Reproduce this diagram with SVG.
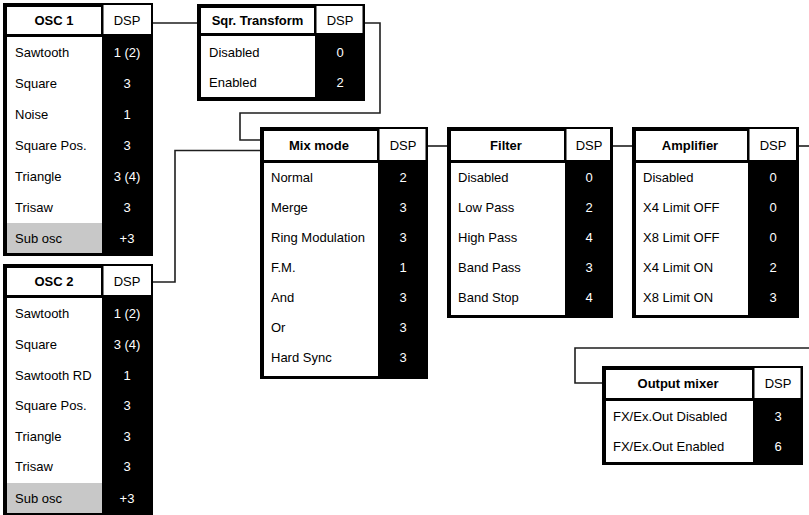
<svg xmlns="http://www.w3.org/2000/svg" width="809" height="515" viewBox="0 0 809 515">
<style>
text{font-family:"Liberation Sans",Arial,sans-serif;font-size:13px}
.hd{font-weight:bold;text-anchor:middle;fill:#000}
.dh{text-anchor:middle;fill:#000}
.lb{fill:#000}
.v{text-anchor:middle;fill:#fff}
.blk{fill:#000}
.wht{fill:#fff}
.gry{fill:#c8c8c8}
.con{fill:none;stroke:#1e1e1e;stroke-width:1.6}
</style>
<rect width="809" height="515" fill="#fff"/>
<g id="connectors">
<path class="con" d="M153,23 H197"/>
<path class="con" d="M365,23 H380 V113 H240 V140 H260"/>
<path class="con" d="M153,282 H175 V150.5 H260"/>
<path class="con" d="M428,146 H447"/>
<path class="con" d="M613,146 H632"/>
<path class="con" d="M799,146 H812"/>
<path class="con" d="M812,348 H575 V383 H602"/>
</g>
<g id="osc1">
<rect class="blk" x="3" y="3" width="150" height="253"/>
<rect class="wht" x="7" y="7" width="94" height="27"/>
<rect class="wht" x="103.5" y="5" width="47.5" height="29"/>
<rect class="wht" x="7" y="37" width="95" height="186"/>
<rect class="gry" x="7" y="223" width="95" height="30"/>
<text class="hd" x="54" y="25">OSC 1</text>
<text class="dh" x="127" y="25">DSP</text>
<text class="lb" x="15" y="57">Sawtooth</text><text class="v" x="127" y="57">1 (2)</text>
<text class="lb" x="15" y="88">Square</text><text class="v" x="127" y="88">3</text>
<text class="lb" x="15" y="119">Noise</text><text class="v" x="127" y="119">1</text>
<text class="lb" x="15" y="150">Square Pos.</text><text class="v" x="127" y="150">3</text>
<text class="lb" x="15" y="181">Triangle</text><text class="v" x="127" y="181">3 (4)</text>
<text class="lb" x="15" y="212">Trisaw</text><text class="v" x="127" y="212">3</text>
<text class="lb" x="15" y="243">Sub osc</text><text class="v" x="127" y="243">+3</text>
</g>
<g id="osc2">
<rect class="blk" x="3" y="264" width="150" height="253"/>
<rect class="wht" x="7" y="268" width="94" height="27"/>
<rect class="wht" x="103.5" y="266" width="47.5" height="29"/>
<rect class="wht" x="7" y="298" width="95" height="185"/>
<rect class="gry" x="7" y="483" width="95" height="30"/>
<text class="hd" x="54" y="286">OSC 2</text>
<text class="dh" x="127" y="286">DSP</text>
<text class="lb" x="15" y="318">Sawtooth</text><text class="v" x="127" y="318">1 (2)</text>
<text class="lb" x="15" y="349">Square</text><text class="v" x="127" y="349">3 (4)</text>
<text class="lb" x="15" y="380">Sawtooth RD</text><text class="v" x="127" y="380">1</text>
<text class="lb" x="15" y="410">Square Pos.</text><text class="v" x="127" y="410">3</text>
<text class="lb" x="15" y="441">Triangle</text><text class="v" x="127" y="441">3</text>
<text class="lb" x="15" y="471">Trisaw</text><text class="v" x="127" y="471">3</text>
<text class="lb" x="15" y="503">Sub osc</text><text class="v" x="127" y="503">+3</text>
</g>
<g id="sqr-transform">
<rect class="blk" x="197" y="4" width="168" height="97"/>
<rect class="wht" x="201" y="8" width="113" height="25"/>
<rect class="wht" x="316.5" y="6" width="46" height="27"/>
<rect class="wht" x="201" y="36" width="114" height="61"/>
<text class="hd" x="257.5" y="25">Sqr. Transform</text>
<text class="dh" x="340" y="25">DSP</text>
<text class="lb" x="209" y="57">Disabled</text><text class="v" x="340" y="57">0</text>
<text class="lb" x="209" y="87">Enabled</text><text class="v" x="340" y="87">2</text>
</g>
<g id="mix-mode">
<rect class="blk" x="260" y="127" width="168" height="252"/>
<rect class="wht" x="264" y="131" width="113" height="29"/>
<rect class="wht" x="379.5" y="129" width="46" height="31"/>
<rect class="wht" x="264" y="163" width="114" height="213"/>
<text class="hd" x="319" y="150">Mix mode</text>
<text class="dh" x="403" y="150">DSP</text>
<text class="lb" x="271" y="182">Normal</text><text class="v" x="403" y="182">2</text>
<text class="lb" x="271" y="212">Merge</text><text class="v" x="403" y="212">3</text>
<text class="lb" x="271" y="242">Ring Modulation</text><text class="v" x="403" y="242">3</text>
<text class="lb" x="271" y="272">F.M.</text><text class="v" x="403" y="272">1</text>
<text class="lb" x="271" y="302">And</text><text class="v" x="403" y="302">3</text>
<text class="lb" x="271" y="332">Or</text><text class="v" x="403" y="332">3</text>
<text class="lb" x="271" y="362">Hard Sync</text><text class="v" x="403" y="362">3</text>
</g>
<g id="filter">
<rect class="blk" x="447" y="127" width="166" height="191"/>
<rect class="wht" x="451" y="131" width="113" height="29"/>
<rect class="wht" x="566.5" y="129" width="43.5" height="31"/>
<rect class="wht" x="451" y="163" width="114" height="152"/>
<text class="hd" x="506" y="150">Filter</text>
<text class="dh" x="589" y="150">DSP</text>
<text class="lb" x="458" y="182">Disabled</text><text class="v" x="589" y="182">0</text>
<text class="lb" x="458" y="212">Low Pass</text><text class="v" x="589" y="212">2</text>
<text class="lb" x="458" y="242">High Pass</text><text class="v" x="589" y="242">4</text>
<text class="lb" x="458" y="272">Band Pass</text><text class="v" x="589" y="272">3</text>
<text class="lb" x="458" y="302">Band Stop</text><text class="v" x="589" y="302">4</text>
</g>
<g id="amplifier">
<rect class="blk" x="632" y="127" width="167" height="191"/>
<rect class="wht" x="636" y="131" width="111" height="29"/>
<rect class="wht" x="749.5" y="129" width="46.5" height="31"/>
<rect class="wht" x="636" y="163" width="112" height="152"/>
<text class="hd" x="690" y="150">Amplifier</text>
<text class="dh" x="773" y="150">DSP</text>
<text class="lb" x="643" y="182">Disabled</text><text class="v" x="773" y="182">0</text>
<text class="lb" x="643" y="212">X4 Limit OFF</text><text class="v" x="773" y="212">0</text>
<text class="lb" x="643" y="242">X8 Limit OFF</text><text class="v" x="773" y="242">0</text>
<text class="lb" x="643" y="272">X4 Limit ON</text><text class="v" x="773" y="272">2</text>
<text class="lb" x="643" y="302">X8 Limit ON</text><text class="v" x="773" y="302">3</text>
</g>
<g id="output-mixer">
<rect class="blk" x="602" y="366" width="201" height="99"/>
<rect class="wht" x="606" y="370" width="146" height="28"/>
<rect class="wht" x="754.5" y="368" width="46" height="30"/>
<rect class="wht" x="606" y="401" width="147" height="61"/>
<text class="hd" x="678" y="388">Output mixer</text>
<text class="dh" x="778" y="388">DSP</text>
<text class="lb" x="613" y="421">FX/Ex.Out Disabled</text><text class="v" x="778" y="421">3</text>
<text class="lb" x="613" y="451">FX/Ex.Out Enabled</text><text class="v" x="778" y="451">6</text>
</g>
</svg>
